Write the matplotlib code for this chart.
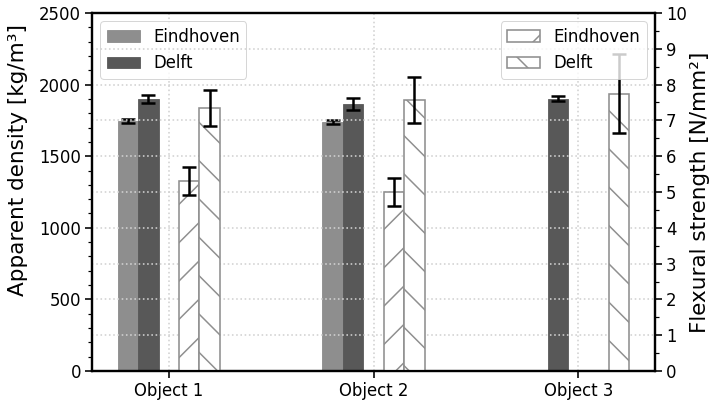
import numpy as np
import matplotlib
matplotlib.use("Agg")
import matplotlib.pyplot as plt
from matplotlib.ticker import MultipleLocator

# data
objects = ["Object 1", "Object 2", "Object 3"]

density_eindhoven = [1745, 1738, np.nan]
density_eindhoven_err = [15, 14, np.nan]
density_delft = [1900, 1865, 1900]
density_delft_err = [28, 40, 18]

flex_eindhoven = [5.3, 5.0, np.nan]
flex_eindhoven_err = [0.39, 0.40, np.nan]
flex_delft = [7.35, 7.57, 7.75]
flex_delft_err = [0.50, 0.65, 1.10]

# dpi picked so the hatch spacing matches the reference
DPI = 115
PX = 72 / DPI  # points per pixel

FS = 16.5 * PX
LFS = 21.5 * PX
plt.rcParams["font.family"] = ["DejaVu Sans"]
plt.rcParams["hatch.linewidth"] = 1.5 * PX

fig, ax1 = plt.subplots(figsize=(711 / DPI, 404 / DPI), dpi=DPI)
fig.subplots_adjust(left=92 / 711, right=655 / 711, top=1 - 13 / 404, bottom=1 - 371 / 404)
ax2 = ax1.twinx()

x = np.arange(len(objects))
w = 0.1
err_kw = dict(ecolor="black", elinewidth=2.5 * PX, capsize=7 * PX, capthick=2.5 * PX)

ax1.bar(x - 2 * w, density_eindhoven, w, yerr=density_eindhoven_err, color="#8e8e8e",
        edgecolor="#888888", linewidth=0.8 * PX, error_kw=err_kw, label="Eindhoven")
ax1.bar(x - w, density_delft, w, yerr=density_delft_err, color="#585858",
        edgecolor="#555555", linewidth=0.8 * PX, error_kw=err_kw, label="Delft")

ax2.bar(x + w, flex_eindhoven, w, yerr=flex_eindhoven_err, color="white", hatch="/",
        edgecolor="#8f8f8f", linewidth=1.6 * PX, error_kw=err_kw, label="Eindhoven")
ax2.bar(x + 2 * w, flex_delft, w, yerr=flex_delft_err, color="white", hatch="\\",
        edgecolor="#8f8f8f", linewidth=1.6 * PX, error_kw=err_kw, label="Delft")

ax1.set_xlim(-0.375, 2.375)
ax1.set_ylim(0, 2500)
ax2.set_ylim(0, 10)
ax1.set_xticks(x)
ax1.set_xticklabels(objects)
ax1.yaxis.set_major_locator(MultipleLocator(500))
ax1.yaxis.set_minor_locator(MultipleLocator(100))
ax2.yaxis.set_major_locator(MultipleLocator(1))
ax2.yaxis.set_minor_locator(MultipleLocator(0.5))

ax1.set_ylabel("Apparent density [kg/m³]", fontsize=LFS)
ax1.yaxis.set_label_coords(-0.114, 0.59)
ax2.set_ylabel("Flexural strength [N/mm²]", fontsize=LFS, labelpad=3 * PX)

for ax in (ax1, ax2):
    ax.tick_params(which="major", labelsize=FS, length=7 * PX, width=1.6 * PX, pad=4 * PX)
    ax.tick_params(which="minor", length=4 * PX, width=1.2 * PX)
    for sp in ax.spines.values():
        sp.set_linewidth(2.2 * PX)

grid_kw = dict(color="#d2d2d2", linestyle=":", linewidth=1.6 * PX)
ax1.grid(True, axis="x", **grid_kw)
ax2.grid(True, axis="y", **grid_kw)
ax1.set_axisbelow(True)
ax2.set_axisbelow(True)

leg_kw = dict(fontsize=FS, framealpha=0.8, borderpad=0.4, handlelength=2.0)
l1 = ax1.legend(loc="upper left", **leg_kw)
l2 = ax2.legend(loc="upper right", **leg_kw)
for lg in (l1, l2):
    lg.get_frame().set_linewidth(1.0 * PX)

fig.savefig("out.png", dpi=DPI)
